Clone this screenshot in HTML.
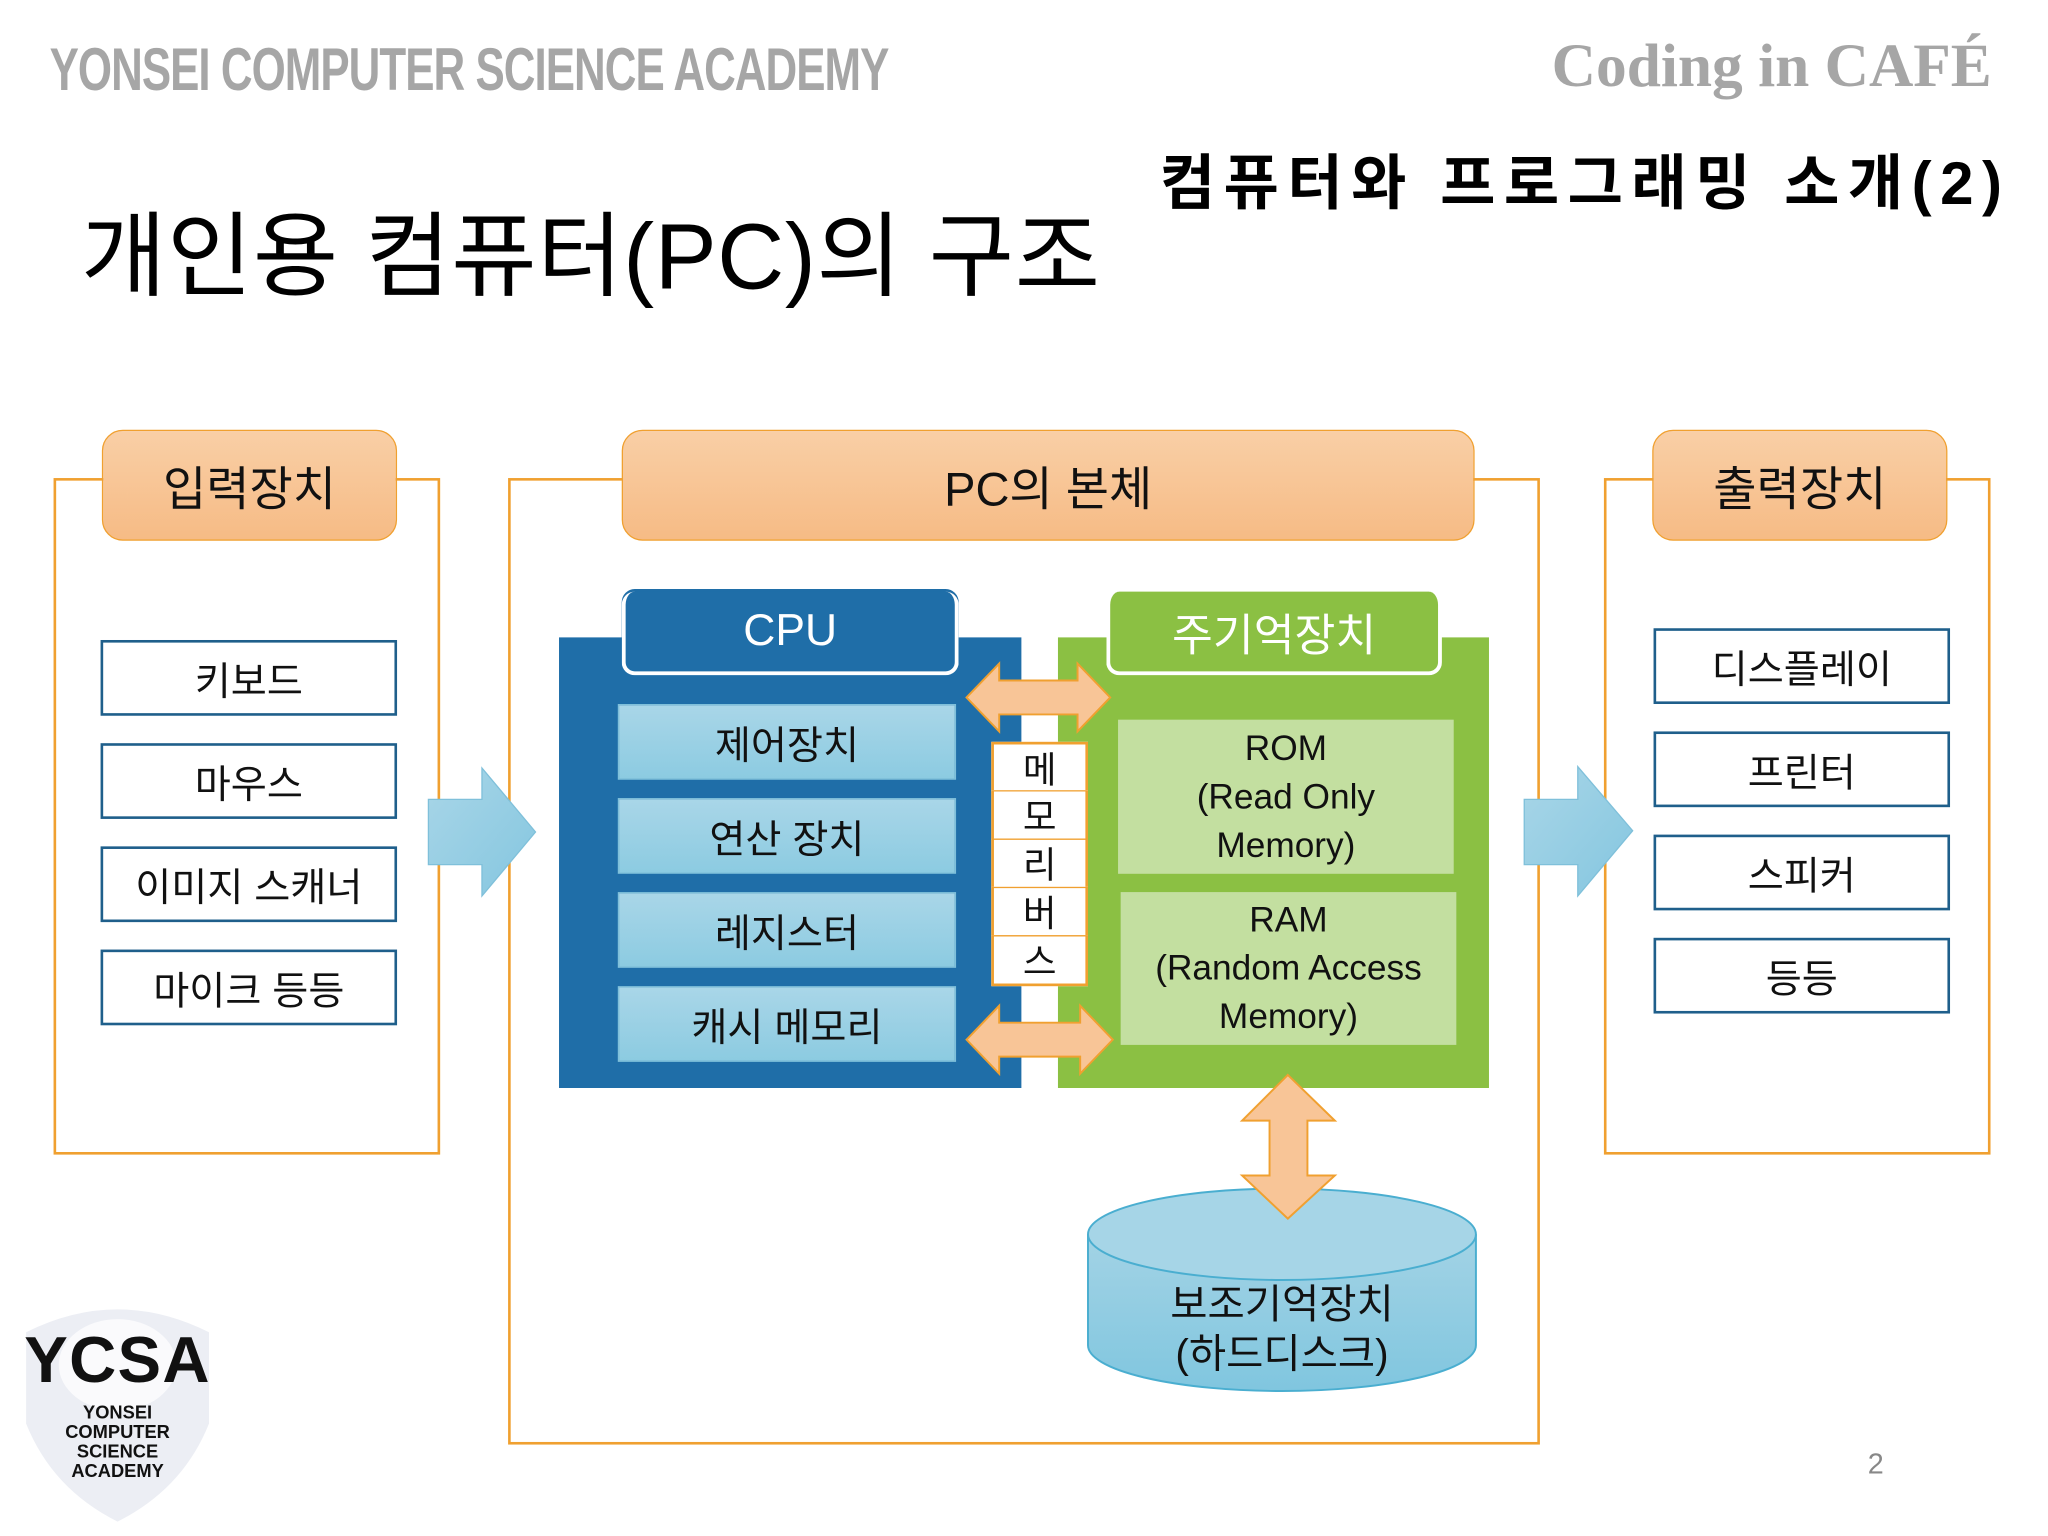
<!DOCTYPE html>
<html><head><meta charset="utf-8">
<style>
html,body{margin:0;padding:0;background:#fff;width:2048px;height:1536px;overflow:hidden}
#w{position:absolute;left:0;top:0;width:1568px;height:1176px;transform:scale(1.30612);transform-origin:0 0;font-family:"Liberation Sans","Noto Sans CJK KR",sans-serif}
.a{position:absolute;box-sizing:border-box}
.c{display:flex;align-items:center;justify-content:center;text-align:center}
.frame{border:2px solid #f0a030}
.lab{background:linear-gradient(#f9cfa6,#f6bb85);border:1.5px solid #f0a030;border-radius:16px;font-size:36px;color:#111}
.it{border:2px solid #1f5f8b;background:#fff;font-size:30px;color:#111}
.cp{background:linear-gradient(#a9d6e8,#8ccbe1);border:1px solid #7fc0da;font-size:30px;color:#111}
.mb{border:2px solid #f0a030;background:#fff;font-size:28px;color:#111}
</style></head><body><div id="w">
<div class="a" style="left:38px;top:26px;font-weight:bold;font-size:46px;color:#a6a6a6;transform:scaleX(0.73);transform-origin:0 0;white-space:nowrap;letter-spacing:-1px">YONSEI COMPUTER SCIENCE ACADEMY</div>
<div class="a" style="left:1188px;top:24px;font-family:'Liberation Serif',serif;font-weight:bold;font-size:47px;color:#a6a6a6;white-space:nowrap">Coding in CAFÉ</div>
<div class="a" style="left:888px;top:104px;font-weight:bold;font-size:46px;color:#000;white-space:nowrap;letter-spacing:6.5px">컴퓨터와 프로그래밍 소개(2)</div>
<div class="a" style="left:62px;top:140px;font-size:71px;color:#000;white-space:nowrap;letter-spacing:0.5px">개인용 컴퓨터(PC)의 구조</div>

<div class="a frame" style="left:41px;top:366px;width:296px;height:518px"></div>
<div class="a frame" style="left:389px;top:366px;width:790px;height:740px"></div>
<div class="a frame" style="left:1228px;top:366px;width:296px;height:518px"></div>

<div class="a lab c" style="left:78px;top:329px;width:226px;height:85px">입력장치</div>
<div class="a lab c" style="left:476px;top:329px;width:653px;height:85px">PC의 본체</div>
<div class="a lab c" style="left:1265px;top:329px;width:226px;height:85px">출력장치</div>

<div class="a it c" style="left:77px;top:490px;width:227px;height:58px">키보드</div>
<div class="a it c" style="left:77px;top:569px;width:227px;height:58px">마우스</div>
<div class="a it c" style="left:77px;top:648px;width:227px;height:58px">이미지 스캐너</div>
<div class="a it c" style="left:77px;top:727px;width:227px;height:58px">마이크 등등</div>

<div class="a it c" style="left:1266px;top:481px;width:227px;height:58px">디스플레이</div>
<div class="a it c" style="left:1266px;top:560px;width:227px;height:58px">프린터</div>
<div class="a it c" style="left:1266px;top:639px;width:227px;height:58px">스피커</div>
<div class="a it c" style="left:1266px;top:718px;width:227px;height:58px">등등</div>

<svg class="a" style="left:0;top:0" width="1568" height="1176">
<defs><linearGradient id="bl" x1="0" y1="0" x2="1" y2="1"><stop offset="0" stop-color="#a9d6e8"/><stop offset="1" stop-color="#84c6df"/></linearGradient></defs>
<polygon points="328,612 369,612 369,588 410,637 369,686 369,662 328,662" fill="url(#bl)" stroke="#7fc0da"/>
<polygon points="1167,612 1208,612 1208,587 1250,636 1208,686 1208,662 1167,662" fill="url(#bl)" stroke="#7fc0da"/>
</svg>

<div class="a" style="left:428px;top:488px;width:354px;height:345px;background:#1f6ea8"></div>
<div class="a c" style="left:476px;top:453px;width:258px;height:64px;background:#1f6ea8;border:3px solid #fff;border-top:none;border-radius:10px;color:#fff;font-size:34px;box-shadow:0 -2px 0 #1f6ea8">CPU</div>
<div class="a cp c" style="left:473px;top:539px;width:259px;height:58px">제어장치</div>
<div class="a cp c" style="left:473px;top:611px;width:259px;height:58px">연산 장치</div>
<div class="a cp c" style="left:473px;top:683px;width:259px;height:58px">레지스터</div>
<div class="a cp c" style="left:473px;top:755px;width:259px;height:58px">캐시 메모리</div>

<div class="a" style="left:810px;top:488px;width:330px;height:345px;background:#8bc043"></div>
<div class="a c" style="left:847px;top:453px;width:257px;height:64px;background:#8bc043;border:3px solid #fff;border-top:none;border-radius:10px;color:#fff;font-size:34px">주기억장치</div>
<div class="a c" style="left:856px;top:551px;width:257px;height:118px;background:#c3dfa0;font-size:27px;line-height:37px;color:#111">ROM<br>(Read Only<br>Memory)</div>
<div class="a c" style="left:858px;top:683px;width:257px;height:117px;background:#c3dfa0;font-size:27px;line-height:37px;color:#111">RAM<br>(Random Access<br>Memory)</div>

<div class="a" style="left:759px;top:568px;width:74px;height:187px;background:#fff;border:2px solid #f0a030"></div>
<div class="a mb c" style="left:759px;top:568px;width:74px;height:38px;border-bottom-width:1px">메</div>
<div class="a mb c" style="left:759px;top:605px;width:74px;height:38px;border-bottom-width:1px;border-top-width:1px">모</div>
<div class="a mb c" style="left:759px;top:642px;width:74px;height:38px;border-bottom-width:1px;border-top-width:1px">리</div>
<div class="a mb c" style="left:759px;top:679px;width:74px;height:38px;border-bottom-width:1px;border-top-width:1px">버</div>
<div class="a mb c" style="left:759px;top:716px;width:74px;height:39px;border-top-width:1px">스</div>

<svg class="a" style="left:0;top:0" width="1568" height="1176">
<g fill="#f8c597" stroke="#f0a030" stroke-width="1.5">
<polygon points="740,534 765,508 765,521 825,521 825,508 850,534 825,560 825,547 765,547 765,560"/>
<polygon points="740,796 765,770 765,783 827,783 827,770 852,796 827,822 827,809 765,809 765,822"/>
</g>
<defs><linearGradient id="cy" x1="0" y1="0" x2="0" y2="1"><stop offset="0" stop-color="#a3d3e5"/><stop offset="1" stop-color="#80c6df"/></linearGradient></defs>
<path d="M833,945 L833,1030 A148.5,35 0 0 0 1130,1030 L1130,945" fill="url(#cy)" stroke="#4aaed0" stroke-width="1.5"/>
<ellipse cx="981.5" cy="945" rx="148.5" ry="35" fill="#a6d5e7" stroke="#4aaed0" stroke-width="1.5"/>
<polygon points="986,823 1022,858 1001,858 1001,900 1022,900 986,933 951,900 972,900 972,858 951,858" fill="#f8c597" stroke="#f0a030" stroke-width="1.5"/>
<path d="M20,1020 Q90,985 160,1020 L160,1090 Q140,1140 90,1165 Q40,1140 20,1090 Z" fill="#eceef4"/>
<ellipse cx="90" cy="1045" rx="45" ry="35" fill="#fafafc"/>
</svg>
<div class="a c" style="left:833px;top:978px;width:297px;height:80px;font-size:31px;line-height:38px;color:#111">보조기억장치<br>(하드디스크)</div>

<div class="a" style="left:18px;top:1012px;width:144px;text-align:center;font-weight:bold;font-size:50px;color:#111;letter-spacing:1px">YCSA</div>
<div class="a" style="left:18px;top:1074px;width:144px;text-align:center;font-weight:bold;font-size:14px;line-height:15px;color:#111">YONSEI<br>COMPUTER<br>SCIENCE<br>ACADEMY</div>
<div class="a" style="left:1430px;top:1108px;font-size:22px;color:#888">2</div>
</div></body></html>
